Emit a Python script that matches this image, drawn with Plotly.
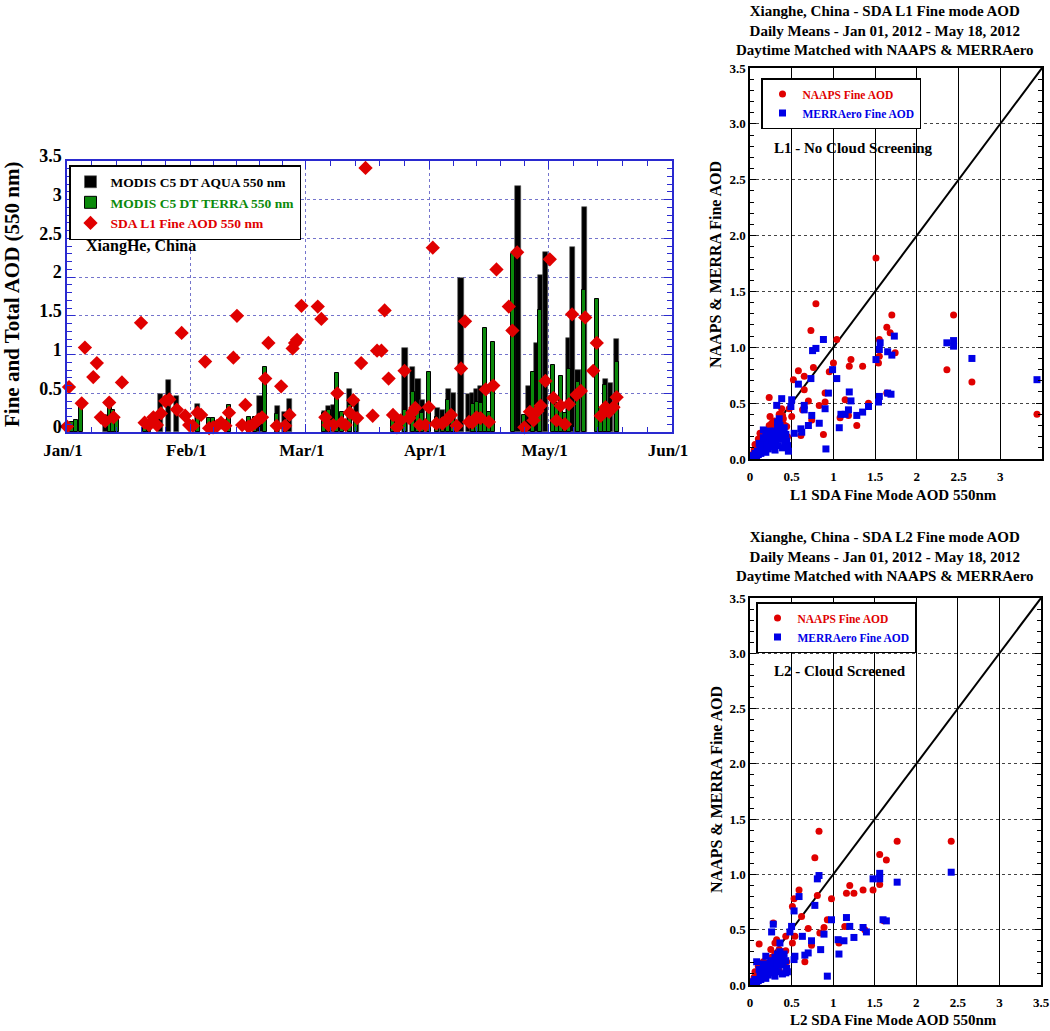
import plotly.graph_objects as go

W, H = 1050, 1031
FONT = "Liberation Serif"

# ---------------- time series data (days since Jan 1, 2012) ----------------
month_labels = ["Jan/1", "Feb/1", "Mar/1", "Apr/1", "May/1", "Jun/1"]
month_days = [0, 31, 60, 91, 121, 152]
y_ticks_left = [0, 0.5, 1, 1.5, 2, 2.5, 3, 3.5]
y_ticktext_left = ["0", "0.5", "1", "1.5", "2", "2.5", "3", "3.5"]

aqua_day = [9.6, 23.4, 25.6, 27.6, 32.8, 48.5, 52.8, 54.7, 56.0, 64.6, 65.8, 66.9,
            71.0, 72.7, 84.9, 86.9, 88.2, 89.3, 93.0, 94.4, 95.8, 97.1, 99.0,
            100.9, 101.9, 102.9, 103.9, 113.3, 115.9, 117.9, 118.9, 120.2,
            126.0, 127.0, 128.4, 130.0, 135.2, 136.5, 138.1]
aqua_aod = [0.22, 0.49, 0.67, 0.47, 0.36, 0.47, 0.33, 0.26, 0.43, 0.27, 0.33, 0.35,
            0.55, 0.42, 1.08, 0.84, 0.69, 0.41, 0.31, 0.28, 0.56, 0.51, 1.99,
            0.49, 0.50, 0.55, 0.59, 3.18, 0.59, 1.15, 2.03, 2.32,
            1.21, 2.39, 0.80, 2.90, 0.69, 0.63, 1.20]

terra_day = [1.3, 2.3, 3.6, 10.7, 11.6, 12.6, 19.5, 20.6, 32.8, 35.6, 36.8, 40.7,
             45.7, 47.3, 49.7, 52.7, 54.7, 64.5, 65.8, 67.9, 69.1, 71.0, 72.6,
             81.9, 83.2, 84.9, 86.9, 88.2, 89.3, 91.0, 93.0, 94.4, 95.8, 97.1,
             102.0, 103.0, 104.0, 105.1, 106.0, 107.1, 112.0, 114.8, 117.1, 118.9,
             122.1, 123.0, 124.1, 125.0, 126.0, 128.4, 130.0, 133.2, 134.1, 135.2,
             136.2, 138.1]
terra_aod = [0.13, 0.15, 0.34, 0.43, 0.28, 0.18, 0.13, 0.12, 0.24, 0.18, 0.18, 0.35,
             0.20, 0.19, 0.84, 0.23, 0.13, 0.25, 0.28, 0.76, 0.26, 0.35, 0.24,
             0.20, 0.20, 0.29, 0.52, 0.29, 0.24, 0.78, 0.20, 0.20, 0.41, 0.28,
             0.36, 0.39, 0.38, 1.34, 0.26, 1.16, 2.30, 0.22, 0.77, 1.58,
             0.86, 0.37, 0.72, 0.24, 0.81, 0.64, 1.83, 1.72, 0.31, 0.61,
             0.20, 0.90]

sda_day = [0.0, 0.5, 3.7, 4.5, 6.6, 7.5, 8.5, 9.6, 10.6, 11.7, 13.8, 18.6, 19.5,
           20.6, 21.7, 22.6, 23.6, 24.7, 25.7, 27.6, 28.8, 29.7, 30.7, 31.6, 32.8,
           33.7, 34.7, 35.7, 36.7, 37.7, 38.7, 39.8, 40.7, 41.8, 42.7, 44.0, 44.8,
           45.6, 46.5, 47.3, 48.1, 49.0, 49.8, 50.6, 52.7, 53.8, 54.8, 55.9, 56.7,
           57.3, 57.8, 58.9, 63.0, 63.9, 64.9, 65.7, 66.9, 67.9, 69.0, 70.0, 71.0,
           71.9, 72.9, 73.9, 75.0, 76.8, 77.9, 79.0, 79.8, 80.8, 81.9, 82.9, 83.8,
           84.8, 86.0, 86.7, 87.5, 88.6, 90.1, 90.9, 91.9, 92.8, 94.3, 95.5, 96.5,
           97.9, 99.0, 100.0, 101.0, 101.8, 102.9, 103.9, 105.2, 106.0, 107.1,
           107.9, 111.0, 111.9, 113.1, 114.9, 116.3, 117.2, 118.2, 119.0, 120.2,
           121.3, 122.2, 123.0, 124.0, 125.1, 126.1, 126.9, 128.0, 129.1, 130.2,
           132.2, 133.1, 134.1, 135.3, 136.2, 137.3, 138.1]
sda_aod = [0.07, 0.58, 0.37, 1.09, 0.71, 0.89, 0.19, 0.14, 0.38, 0.19, 0.64, 1.41, 0.12,
           0.09, 0.19, 0.09, 0.24, 0.40, 0.42, 0.29, 1.28, 0.21, 0.09, 0.08, 0.25,
           0.22, 0.91, 0.05, 0.06, 0.08, 0.12, 0.08, 0.25, 0.96, 1.50, 0.09, 0.35,
           0.07, 0.09, 0.12, 0.16, 0.19, 0.69, 1.15, 0.08, 0.59, 0.08, 0.22, 1.08,
           1.15, 1.19, 1.63, 1.62, 1.46, 0.19, 0.09, 0.09, 0.50, 0.12, 0.09, 0.25,
           0.41, 0.18, 0.89, 3.41, 0.21, 1.05, 1.05, 1.57, 0.69, 0.22, 0.06, 0.15,
           0.79, 0.18, 0.25, 0.31, 0.09, 0.09, 0.32, 2.38, 0.11, 0.11, 0.16, 0.22,
           0.08, 0.82, 1.43, 0.13, 0.12, 0.19, 0.18, 0.55, 0.13, 0.60,
           2.10, 1.62, 1.31, 2.32, 0.06, 0.26, 0.15, 0.27, 0.34, 0.66,
           2.23, 0.44, 0.15, 0.34, 0.10, 0.36, 1.52, 0.48, 0.53, 1.48,
           0.79, 1.15, 0.21, 0.32, 0.26, 0.32, 0.45]

# ---------------- scatter data ----------------
sc_ticks = [0, 0.5, 1, 1.5, 2, 2.5, 3, 3.5]
sc_xtext = ["0", "0.5", "1", "1.5", "2", "2.5", "3", "3.5"]
sc_ytext = ["0.0", "0.5", "1.0", "1.5", "2.0", "2.5", "3.0", "3.5"]
one_to_one = [0, 3.5]

l1_naaps_x = [1.51, 0.79, 0.73, 1.04, 1.70, 1.64, 1.68, 1.55, 1.74, 1.55, 1.54, 2.44, 2.36,
              2.66, 3.44, 1.21, 1.19, 1.35, 1.00, 0.95, 0.76, 0.58, 0.65, 0.52, 0.65, 0.70,
              0.90, 0.90, 0.83, 0.63, 0.47, 0.50, 0.23, 0.24, 0.39, 0.39, 0.74, 0.61, 0.88,
              1.28, 1.08, 1.18, 1.14, 1.42, 1.64, 0.12, 0.26, 0.38, 0.06, 0.16, 0.32, 0.44,
              0.40, 0.03, 0.05, 0.07, 0.09, 0.10, 0.12, 0.14, 0.15, 0.17, 0.18, 0.20, 0.21,
              0.23, 0.25, 0.27, 0.29, 0.30, 0.33, 0.35, 0.36, 0.42, 0.45]
l1_naaps_y = [1.80, 1.39, 1.15, 1.07, 1.29, 1.18, 1.13, 1.07, 0.95, 0.92, 0.86, 1.29, 0.80,
              0.69, 0.40, 0.89, 0.83, 0.83, 0.86, 0.78, 0.82, 0.79, 0.74, 0.71, 0.62, 0.52,
              0.59, 0.51, 0.48, 0.44, 0.45, 0.38, 0.55, 0.38, 0.39, 0.32, 0.35, 0.21, 0.22,
              0.30, 0.37, 0.39, 0.53, 0.50, 0.59, 0.23, 0.32, 0.45, 0.13, 0.14, 0.20, 0.29,
              0.36, 0.04, 0.08, 0.05, 0.12, 0.18, 0.10, 0.20, 0.07, 0.16, 0.25, 0.12, 0.22,
              0.30, 0.15, 0.27, 0.34, 0.22, 0.30, 0.40, 0.26, 0.30, 0.20]

l1_merra_x = [0.88, 0.79, 0.75, 1.73, 1.56, 1.55, 1.65, 1.70, 1.51, 2.36, 2.44, 2.44, 2.66,
              3.44, 0.99, 1.04, 0.73, 0.58, 0.94, 1.19, 1.21, 1.65, 1.69, 1.55, 1.54, 1.42,
              1.35, 1.28, 1.18, 1.14, 1.09, 1.07, 0.90, 0.83, 0.91, 0.65, 0.65, 0.74, 0.70,
              0.61, 0.62, 0.53, 0.50, 0.49, 0.38, 0.32, 0.46, 0.44, 0.42, 0.16,
              0.02, 0.04, 0.06, 0.08, 0.09, 0.10, 0.12, 0.13, 0.14, 0.15, 0.17, 0.18, 0.19,
              0.20, 0.21, 0.22, 0.23, 0.24, 0.25, 0.26, 0.27, 0.28, 0.29, 0.30, 0.31, 0.32,
              0.33, 0.34, 0.35, 0.36, 0.37, 0.38, 0.39, 0.40, 0.41, 0.43, 0.45, 0.11, 0.16,
              0.19, 0.23, 0.30, 0.35, 0.33]
l1_merra_y = [1.07, 0.99, 0.97, 1.10, 1.04, 0.98, 0.96, 0.93, 0.89, 1.04, 1.06, 1.01, 0.90,
              0.71, 0.80, 0.72, 0.72, 0.67, 0.59, 0.60, 0.52, 0.59, 0.58, 0.56, 0.51, 0.47,
              0.42, 0.39, 0.44, 0.40, 0.40, 0.28, 0.45, 0.32, 0.09, 0.48, 0.44, 0.39, 0.30,
              0.27, 0.24, 0.23, 0.53, 0.47, 0.54, 0.48, 0.07, 0.16, 0.13, 0.26,
              0.01, 0.03, 0.05, 0.02, 0.07, 0.04, 0.09, 0.05, 0.12, 0.08, 0.10, 0.15, 0.06,
              0.12, 0.18, 0.09, 0.14, 0.20, 0.11, 0.16, 0.22, 0.13, 0.18, 0.25, 0.15, 0.20,
              0.28, 0.12, 0.22, 0.30, 0.18, 0.25, 0.10, 0.20, 0.28, 0.22, 0.12, 0.14, 0.19,
              0.22, 0.25, 0.08, 0.36, 0.33]

l2_naaps_x = [0.83, 0.78, 1.77, 2.42, 1.56, 1.64, 0.81, 0.59, 0.53, 0.98, 1.20, 1.16, 1.25,
              1.36, 1.48, 1.56, 0.51, 0.62, 0.70, 0.84, 0.89, 0.93, 1.07, 1.14, 1.38, 1.61,
              0.51, 0.54, 0.43, 0.32, 0.30, 0.28, 0.11, 0.35, 0.43, 0.44, 0.35, 0.74, 0.66,
              0.25, 0.16, 0.10, 0.06, 0.03, 0.05, 0.08, 0.10, 0.12, 0.14, 0.16, 0.18, 0.20,
              0.22, 0.24, 0.26, 0.28, 0.30, 0.32, 0.34, 0.38, 0.40]
l2_naaps_y = [1.39, 1.15, 1.30, 1.30, 1.18, 1.13, 0.81, 0.86, 0.78, 0.78, 0.90, 0.83, 0.83,
              0.86, 0.86, 0.91, 0.71, 0.62, 0.51, 0.47, 0.52, 0.59, 0.38, 0.53, 0.50, 0.58,
              0.38, 0.44, 0.44, 0.41, 0.38, 0.56, 0.37, 0.32, 0.31, 0.21, 0.13, 0.36, 0.21,
              0.32, 0.21, 0.17, 0.12, 0.03, 0.07, 0.05, 0.10, 0.14, 0.08, 0.12, 0.18, 0.10,
              0.20, 0.14, 0.25, 0.19, 0.28, 0.22, 0.26, 0.30, 0.24]

l2_merra_x = [0.83, 0.81, 1.56, 1.56, 1.48, 1.77, 2.42, 0.59, 0.78, 0.53, 0.98, 1.16, 1.20,
              1.36, 1.40, 1.25, 1.13, 1.06, 1.07, 1.60, 1.64, 0.89, 0.85, 0.93, 0.74, 0.70,
              0.66, 0.63, 0.54, 0.53, 0.50, 0.48, 0.28, 0.26, 0.36, 0.08, 0.19, 0.43, 0.44,
              0.02, 0.04, 0.06, 0.08, 0.10, 0.12, 0.13, 0.14, 0.15, 0.17, 0.18, 0.19, 0.20,
              0.21, 0.22, 0.23, 0.24, 0.25, 0.26, 0.27, 0.28, 0.29, 0.30, 0.31, 0.32, 0.33,
              0.34, 0.35, 0.36, 0.37, 0.38, 0.39, 0.40, 0.41, 0.43, 0.45, 0.11, 0.16, 0.30]
l2_merra_y = [0.99, 0.96, 1.01, 0.96, 0.96, 0.93, 1.02, 0.80, 0.72, 0.67, 0.59, 0.61, 0.53,
              0.52, 0.48, 0.43, 0.40, 0.41, 0.28, 0.59, 0.58, 0.46, 0.32, 0.08, 0.40, 0.29,
              0.27, 0.44, 0.26, 0.23, 0.53, 0.48, 0.55, 0.48, 0.38, 0.21, 0.26, 0.11, 0.15,
              0.01, 0.03, 0.05, 0.02, 0.04, 0.09, 0.05, 0.12, 0.08, 0.10, 0.15, 0.06, 0.12,
              0.18, 0.09, 0.14, 0.20, 0.11, 0.16, 0.22, 0.13, 0.18, 0.25, 0.15, 0.20, 0.28,
              0.12, 0.22, 0.30, 0.18, 0.25, 0.10, 0.20, 0.28, 0.22, 0.12, 0.14, 0.19, 0.08]

# ---------------- styling ----------------
BLUE_FRAME = "#2a2ad0"
BLUE_GRID = "#7474cc"
GREEN = "#0b8a0b"
RED = "#e00000"
BLUE = "#0000e6"


def px(x):
    """window pixel x -> paper fraction"""
    return x / W


def py(y):
    """window pixel y -> paper fraction"""
    return 1 - y / H


# minor ticks: 5 intervals per month
minor_x = []
for i in range(len(month_days) - 1):
    a, b = month_days[i], month_days[i + 1]
    for k in range(1, 5):
        minor_x.append(a + k * (b - a) / 5)

fig = go.Figure()

fig.add_trace(go.Bar(
    x=aqua_day, y=aqua_aod, width=1.3, name="MODIS C5 DT AQUA 550 nm",
    marker=dict(color="black", line=dict(color="#555555", width=0.6)),
    xaxis="x", yaxis="y", legend="legend"))
fig.add_trace(go.Bar(
    x=terra_day, y=terra_aod, width=1.0,
    name="<span style='color:%s'>MODIS C5 DT TERRA 550 nm</span>" % GREEN,
    marker=dict(color=GREEN, line=dict(color="black", width=1)),
    xaxis="x", yaxis="y", legend="legend"))
fig.add_trace(go.Scatter(
    x=sda_day, y=sda_aod, mode="markers", cliponaxis=False,
    name="<span style='color:%s'>SDA L1 Fine AOD 550 nm</span>" % RED,
    marker=dict(symbol="diamond", size=11, color=RED),
    xaxis="x", yaxis="y", legend="legend"))

# top scatter (L1)
fig.add_trace(go.Scatter(
    x=one_to_one, y=one_to_one, mode="lines", line=dict(color="black", width=2),
    showlegend=False, xaxis="x2", yaxis="y2"))
fig.add_trace(go.Scatter(
    x=l1_naaps_x, y=l1_naaps_y, mode="markers",
    name="<span style='color:%s'>NAAPS Fine AOD</span>" % RED,
    marker=dict(symbol="circle", size=7, color=RED),
    xaxis="x2", yaxis="y2", legend="legend2"))
fig.add_trace(go.Scatter(
    x=l1_merra_x, y=l1_merra_y, mode="markers",
    name="<span style='color:%s'>MERRAero Fine AOD</span>" % BLUE,
    marker=dict(symbol="square", size=7, color=BLUE),
    xaxis="x2", yaxis="y2", legend="legend2"))

# bottom scatter (L2)
fig.add_trace(go.Scatter(
    x=one_to_one, y=one_to_one, mode="lines", line=dict(color="black", width=2),
    showlegend=False, xaxis="x3", yaxis="y3"))
fig.add_trace(go.Scatter(
    x=l2_naaps_x, y=l2_naaps_y, mode="markers",
    name="<span style='color:%s'>NAAPS Fine AOD</span>" % RED,
    marker=dict(symbol="circle", size=7, color=RED),
    xaxis="x3", yaxis="y3", legend="legend3"))
fig.add_trace(go.Scatter(
    x=l2_merra_x, y=l2_merra_y, mode="markers",
    name="<span style='color:%s'>MERRAero Fine AOD</span>" % BLUE,
    marker=dict(symbol="square", size=7, color=BLUE),
    xaxis="x3", yaxis="y3", legend="legend3"))

tick_font_left = dict(family=FONT, size=18, color="black", weight="bold")
tick_font_left_x = dict(family=FONT, size=17, color="black", weight="bold")
tick_font_sc = dict(family=FONT, size=13, color="black", weight="bold")

left_x = dict(
    domain=[px(67), px(672)], range=[0, 152], anchor="y", automargin=False,
    tickmode="array", tickvals=month_days, ticktext=month_labels,
    ticks="inside", ticklen=8, tickcolor=BLUE_FRAME, tickwidth=1,
    showline=True, linecolor=BLUE_FRAME, linewidth=1.5, mirror="ticks",
    showgrid=True, gridcolor=BLUE_GRID, griddash="dot", gridwidth=1,
    zeroline=False, tickfont=tick_font_left_x, ticklabelshift=-4,
    ticklabelstandoff=2,
    minor=dict(tickmode="array", tickvals=minor_x, ticks="inside", ticklen=5,
               tickcolor=BLUE_FRAME, showgrid=False))
left_y = dict(
    domain=[py(432), py(161)], range=[0, 3.5], anchor="x", automargin=False,
    tickmode="array", tickvals=y_ticks_left, ticktext=y_ticktext_left,
    ticks="inside", ticklen=8, tickcolor=BLUE_FRAME,
    showline=True, linecolor=BLUE_FRAME, linewidth=1.5, mirror="ticks",
    showgrid=True, gridcolor=BLUE_GRID, griddash="dot", gridwidth=1,
    zeroline=False, tickfont=tick_font_left, ticklabelshift=-5,
    minor=dict(dtick=0.1, ticks="inside", ticklen=5, tickcolor=BLUE_FRAME,
               showgrid=False))


def sc_x(dom, anchor):
    return dict(
        domain=dom, range=[0, 3.5], anchor=anchor, automargin=False,
        tickmode="array", tickvals=sc_ticks, ticktext=sc_xtext, ticks="",
        showline=True, linecolor="black", linewidth=1.5, mirror=True,
        showgrid=True, gridcolor="black", gridwidth=1, zeroline=False,
        tickfont=tick_font_sc, ticklabelstandoff=5)


def sc_y(dom, anchor):
    return dict(
        domain=dom, range=[0, 3.5], anchor=anchor, automargin=False,
        tickmode="array", tickvals=sc_ticks, ticktext=sc_ytext,
        ticks="inside", ticklen=6, tickcolor="black",
        showline=True, linecolor="black", linewidth=1.5, mirror="ticks",
        showgrid=True, gridcolor="#444444", griddash="dot", gridwidth=1,
        zeroline=False, tickfont=tick_font_sc,
        minor=dict(dtick=0.1, ticks="inside", ticklen=4, tickcolor="black",
                   showgrid=False))


def legend_box(x, y, size):
    return dict(x=x, y=y, xanchor="left", yanchor="top", bgcolor="white",
                bordercolor="black", borderwidth=1.5, tracegroupgap=0,
                font=dict(family=FONT, size=size, color="black", weight="bold"))


def ann(text, x, y, size, angle=0, xanchor="center", yanchor="middle"):
    return dict(text=text, x=x, y=y, xref="paper", yref="paper", showarrow=False,
                textangle=angle, xanchor=xanchor, yanchor=yanchor,
                font=dict(family=FONT, size=size, color="black", weight="bold"))


title_l1 = ("Xianghe, China - SDA L1 Fine mode AOD<br>"
            "Daily Means - Jan 01, 2012 - May 18, 2012<br>"
            "Daytime Matched with NAAPS & MERRAero")
title_l2 = ("Xianghe, China - SDA L2 Fine mode AOD<br>"
            "Daily Means - Jan 01, 2012 - May 18, 2012<br>"
            "Daytime Matched with NAAPS & MERRAero")

fig.update_layout(
    width=W, height=H, autosize=False,
    margin=dict(l=0, r=0, t=0, b=0, autoexpand=False),
    paper_bgcolor="white", plot_bgcolor="white",
    barmode="overlay", bargap=0,
    font=dict(family=FONT, color="black"),
    xaxis=left_x, yaxis=left_y,
    xaxis2=sc_x([px(750), px(1042)], "y2"),
    yaxis2=sc_y([py(459), py(68)], "x2"),
    xaxis3=sc_x([px(750), px(1041)], "y3"),
    yaxis3=sc_y([py(985), py(598)], "x3"),
    legend=legend_box(px(69), py(165), 13.5),
    legend2=legend_box(px(761), py(78), 11.5),
    legend3=legend_box(px(756), py(602), 11.5),
    annotations=[
        ann("Fine and Total AOD (550 nm)", px(12), py(295), 21, angle=-90),
        ann("XiangHe, China", px(84), py(246), 16, xanchor="left"),
        ann(title_l1, px(885), py(1), 15, yanchor="top"),
        ann(title_l2, px(885), py(527), 15, yanchor="top"),
        ann("L1 - No Cloud Screening", px(772), py(148), 15, xanchor="left"),
        ann("L2 - Cloud Screened", px(772), py(671), 15, xanchor="left"),
        ann("NAAPS & MERRA Fine AOD", px(716), py(265), 16, angle=-90),
        ann("NAAPS & MERRA Fine AOD", px(716), py(790), 16, angle=-90),
        ann("L1 SDA Fine Mode AOD 550nm", px(893), py(495), 15),
        ann("L2 SDA Fine Mode AOD 550nm", px(893), py(1020), 15),
    ],
)

# remove the browser's default 8px body margin so the figure fills the window
fig.write_html("out.html", config={"displayModeBar": False},
               post_script="document.body.style.margin='0px';")
